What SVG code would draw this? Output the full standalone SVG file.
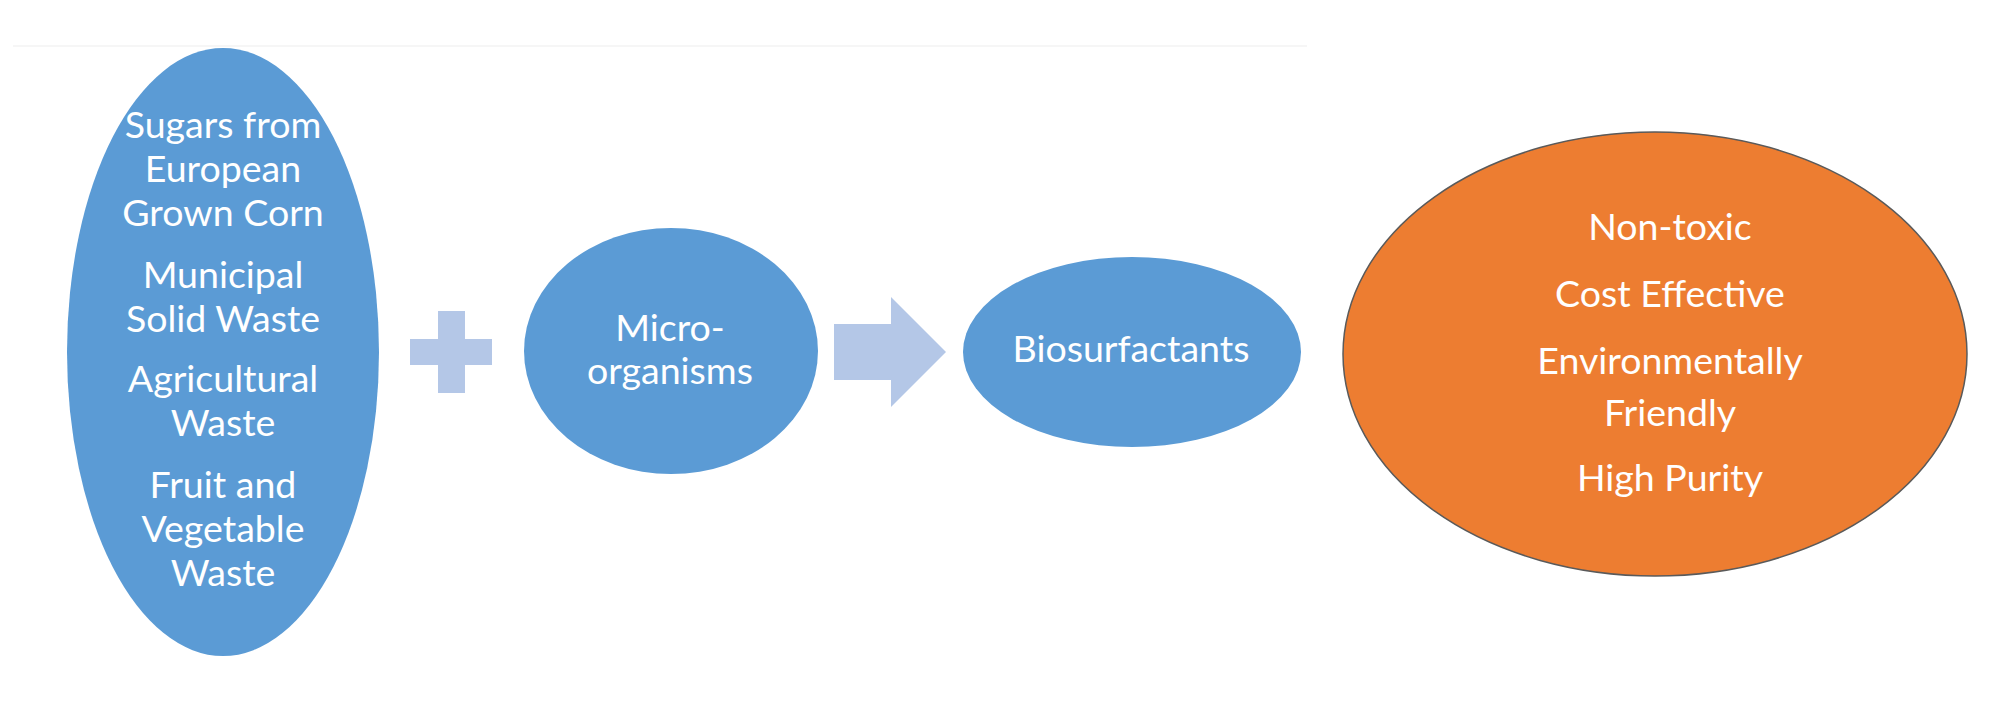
<svg xmlns="http://www.w3.org/2000/svg" width="2000" height="710" viewBox="0 0 2000 710">
<style>
.blue{fill:#5b9bd5}
.light{fill:#b4c7e7}
.t{font-family:Lato,"Liberation Sans",sans-serif;font-size:37.5px;fill:#ffffff;text-anchor:middle}
</style>
<rect x="0" y="0" width="2000" height="710" fill="#ffffff"/>
<line x1="13" y1="46" x2="1307" y2="46" stroke="#f6f6f6" stroke-width="2"/>
<g id="sources">
<ellipse class="blue" cx="223" cy="352" rx="156" ry="304"/>
<text class="t" x="223" y="138">Sugars from</text>
<text class="t" x="223" y="182">European</text>
<text class="t" x="223" y="226">Grown Corn</text>
<text class="t" x="223" y="288">Municipal</text>
<text class="t" x="223" y="332">Solid Waste</text>
<text class="t" x="223" y="392">Agricultural</text>
<text class="t" x="223" y="436">Waste</text>
<text class="t" x="223" y="498">Fruit and</text>
<text class="t" x="223" y="542">Vegetable</text>
<text class="t" x="223" y="586">Waste</text>
</g>
<g id="connectors">
<path id="plus" class="light" d="M438 311 H465 V339 H492 V365 H465 V393 H438 V365 H410 V339 H438 Z"/>
<path id="arrow" class="light" d="M834 324 H891 V297 L946 352 L891 407 V380 H834 Z"/>
</g>
<g id="microorganisms">
<ellipse class="blue" cx="671" cy="351" rx="147" ry="123"/>
<text class="t" x="670" y="341">Micro-</text>
<text class="t" x="670" y="384">organisms</text>
</g>
<g id="biosurfactants">
<ellipse class="blue" cx="1132" cy="352" rx="169" ry="95"/>
<text class="t" x="1131" y="362">Biosurfactants</text>
</g>
<g id="benefits">
<ellipse cx="1655" cy="354" rx="312" ry="222" fill="#ed7d31" stroke="#5a5a5a" stroke-width="1.5"/>
<text class="t" x="1670" y="240">Non-toxic</text>
<text class="t" x="1670" y="307">Cost Effective</text>
<text class="t" x="1670" y="374">Environmentally</text>
<text class="t" x="1670" y="426">Friendly</text>
<text class="t" x="1670" y="491">High Purity</text>
</g>
</svg>
